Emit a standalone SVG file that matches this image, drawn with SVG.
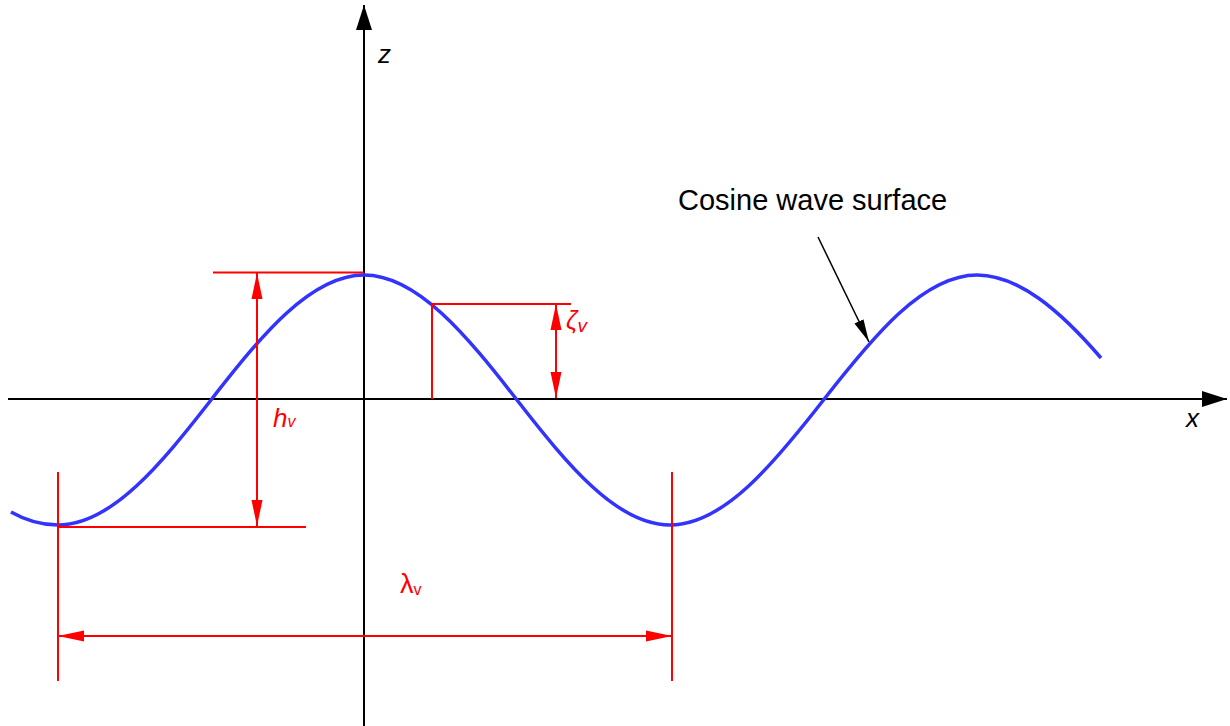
<svg xmlns="http://www.w3.org/2000/svg" width="1230" height="726" viewBox="0 0 1230 726">
<style>
.axis{stroke:#000;stroke-width:2;fill:none}
.dim{stroke:#ff0000;stroke-width:2;fill:none}
.wave{stroke:#3333ff;stroke-width:3.5;fill:none;stroke-linecap:butt}
.lbl{font-family:"Liberation Sans",Arial,sans-serif;fill:#000}
.rl{font-family:"Liberation Sans",Arial,sans-serif;fill:#ff0000}
</style>
<defs>
<marker id="ax" markerUnits="userSpaceOnUse" markerWidth="26" markerHeight="16" refX="25" refY="8" orient="auto"><path d="M0,0 L25,8 L0,16 z" fill="#000"/></marker>
<marker id="ra" markerUnits="userSpaceOnUse" markerWidth="27" markerHeight="12" refX="26" refY="6" orient="auto-start-reverse"><path d="M0,0.5 L26,6 L0,11.5 z" fill="#ff0000"/></marker>
<marker id="la" markerUnits="userSpaceOnUse" markerWidth="24" markerHeight="11" refX="23" refY="5.5" orient="auto"><path d="M0,0.5 L23,5.5 L0,10.5 z" fill="#000"/></marker>
</defs>
<rect width="1230" height="726" fill="#fff"/>
<g id="axes">
<line class="axis" x1="364" y1="726" x2="364" y2="5" marker-end="url(#ax)"/>
<line class="axis" x1="8" y1="399" x2="1227" y2="399" marker-end="url(#ax)"/>
<text class="lbl" x="378" y="63" font-size="26" font-style="italic">z</text>
<text class="lbl" x="1186" y="427" font-size="26" font-style="italic">x</text>
</g>
<g id="wave">
<path class="wave" d="M11,512 C26.7,521 42.3,525 58,525 C111.5,525 161.1,464 211,400 C260.9,336 310.5,275 364,275 C417.5,275 467.1,336 517,400 C566.9,464 616.5,525 670,525 C723.5,525 773.6,464 823.5,400 C873.4,336 923.5,275 977,275 C1018.3,275 1059.7,310 1101,358"/>
</g>
<g id="connectors">
<line class="dim" x1="213" y1="272.5" x2="364" y2="272.5"/>
<line class="dim" x1="58" y1="527" x2="306" y2="527"/>
<line class="dim" x1="257" y1="273" x2="257" y2="526" marker-start="url(#ra)" marker-end="url(#ra)"/>
<line class="dim" x1="432" y1="304" x2="432" y2="399"/>
<line class="dim" x1="432" y1="304" x2="571" y2="304"/>
<line class="dim" x1="556" y1="304" x2="556" y2="398" marker-start="url(#ra)" marker-end="url(#ra)"/>
<line class="dim" x1="58" y1="472" x2="58" y2="681"/>
<line class="dim" x1="672" y1="472" x2="672" y2="681"/>
<line class="dim" x1="58" y1="636" x2="672" y2="636" marker-start="url(#ra)" marker-end="url(#ra)"/>
<line x1="818" y1="237" x2="869" y2="342" stroke="#000" stroke-width="1.5" marker-end="url(#la)"/>
</g>
<g id="labels">
<text class="rl" x="273" y="427" font-size="26" font-style="italic">h<tspan font-size="16">v</tspan></text>
<text class="rl" x="566" y="329" font-size="25" font-style="italic">ζ<tspan font-size="19" dy="3">v</tspan></text>
<text class="rl" x="400" y="593" font-size="27">λ<tspan font-size="16" dy="2">v</tspan></text>
<text class="lbl" x="678" y="210" font-size="29">Cosine wave surface</text>
</g>
</svg>
